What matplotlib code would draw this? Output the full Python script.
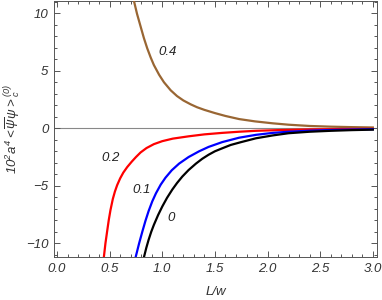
import matplotlib
matplotlib.use("Agg")
import matplotlib.pyplot as plt
from matplotlib.ticker import MultipleLocator, FormatStrFormatter, FuncFormatter

plt.rcParams['font.family'] = ['Liberation Sans', 'DejaVu Sans']
plt.rcParams['mathtext.fontset'] = 'custom'
plt.rcParams['mathtext.rm'] = 'Liberation Sans:italic'
plt.rcParams['mathtext.it'] = 'Liberation Sans:italic'
plt.rcParams['mathtext.sf'] = 'Liberation Sans:italic'

# Curve for parameter 0.4
x_04 = [0.70, 0.73, 0.76, 0.794, 0.825, 0.857, 0.89, 0.92, 0.97, 1.016, 1.08, 1.14, 1.20, 1.27, 1.33, 1.40, 1.50, 1.60, 1.73, 1.88, 2.05, 2.20, 2.40, 2.60, 2.80, 3.00]
y_04 = [12.6, 11.1, 9.95, 8.85, 7.85, 6.95, 6.15, 5.5, 4.65, 4.0, 3.3, 2.8, 2.42, 2.08, 1.83, 1.6, 1.32, 1.07, 0.8, 0.6, 0.43, 0.31, 0.2, 0.14, 0.1, 0.07]

# Curve for parameter 0.2
x_02 = [0.44, 0.445, 0.46, 0.477, 0.492, 0.508, 0.53, 0.55, 0.571, 0.60, 0.63, 0.667, 0.71, 0.75, 0.794, 0.85, 0.92, 1.00, 1.10, 1.25, 1.40, 1.57, 1.73, 1.89, 2.10, 2.40, 2.70, 3.00]
y_02 = [-11.8, -11.2, -10.0, -8.9, -7.95, -7.1, -6.15, -5.5, -4.95, -4.35, -3.85, -3.37, -2.9, -2.5, -2.1, -1.72, -1.38, -1.12, -0.9, -0.7, -0.53, -0.4, -0.3, -0.22, -0.16, -0.1, -0.07, -0.05]

# Curve for parameter 0.1
x_01 = [0.74, 0.747, 0.78, 0.81, 0.84, 0.87, 0.905, 0.94, 0.985, 1.03, 1.09, 1.16, 1.25, 1.35, 1.44, 1.57, 1.73, 1.89, 2.05, 2.20, 2.40, 2.60, 2.80, 3.00]
y_01 = [-11.5, -11.2, -10.0, -9.0, -8.05, -7.2, -6.35, -5.65, -4.9, -4.3, -3.65, -3.07, -2.5, -2.0, -1.62, -1.2, -0.82, -0.57, -0.4, -0.3, -0.21, -0.15, -0.11, -0.08]

# Curve for parameter 0
x_00 = [0.82, 0.826, 0.848, 0.87, 0.895, 0.92, 0.96, 1.00, 1.045, 1.095, 1.14, 1.19, 1.25, 1.32, 1.38, 1.44, 1.50, 1.57, 1.65, 1.75, 1.89, 2.05, 2.20, 2.40, 2.60, 2.80, 3.00]
y_00 = [-11.5, -11.2, -10.4, -9.7, -9.0, -8.4, -7.55, -6.8, -6.05, -5.33, -4.76, -4.2, -3.63, -3.07, -2.65, -2.3, -2.0, -1.74, -1.45, -1.2, -0.87, -0.62, -0.43, -0.3, -0.22, -0.16, -0.12]

curve_labels = ["0.4", "0.2", "0.1", "0"]
label_pos = [(1.05, 6.6), (0.51, -2.6), (0.80, -5.4), (1.08, -7.8)]

fig = plt.figure(figsize=(3.82, 3.0), dpi=100)
ax = fig.add_axes([0.141, 0.143, 0.846, 0.855])

ax.axhline(0, color='#888888', lw=0.8, zorder=1)

ax.plot(x_04, y_04, color='#996633', lw=1.6, zorder=3)
ax.plot(x_02, y_02, color='#FF0000', lw=1.6, zorder=3)
ax.plot(x_01, y_01, color='#0000FF', lw=1.6, zorder=3)
ax.plot(x_00, y_00, color='#000000', lw=1.6, zorder=3)

for lab, (lx, ly) in zip(curve_labels, label_pos):
    ax.text(lx, ly, lab, fontsize=9.5, style='italic', color='#222222',
            ha='center', va='center')

ax.set_xlim(-0.03, 3.04)
ax.set_ylim(-11.2, 11.1)

ax.xaxis.set_major_locator(MultipleLocator(0.5))
ax.xaxis.set_minor_locator(MultipleLocator(0.1))
ax.yaxis.set_major_locator(MultipleLocator(5))
ax.yaxis.set_minor_locator(MultipleLocator(1))
ax.xaxis.set_major_formatter(FormatStrFormatter('%.1f'))
ax.yaxis.set_major_formatter(FuncFormatter(
    lambda v, p: ('\u2212%d' % abs(v)) if v < 0 else '%d' % v))

ax.tick_params(which='both', direction='in', top=True, right=True,
               color='#555555', width=0.7)
ax.tick_params(which='major', length=4.5, labelsize=9.5, labelcolor='#333333', pad=4)
ax.tick_params(which='minor', length=2.5)
for lbl in ax.get_xticklabels() + ax.get_yticklabels():
    lbl.set_style('italic')
for s in ax.spines.values():
    s.set_color('#555555')
    s.set_linewidth(0.7)

ax.set_xlabel('L/w', fontsize=9.5, style='italic', color='#333333', labelpad=8)
ax.set_ylabel(r'$10^2a^4<\overline{\psi}\psi>_c^{(0)}$', fontsize=9.5,
              color='#333333', labelpad=2)

fig.savefig('out.png', dpi=100)
